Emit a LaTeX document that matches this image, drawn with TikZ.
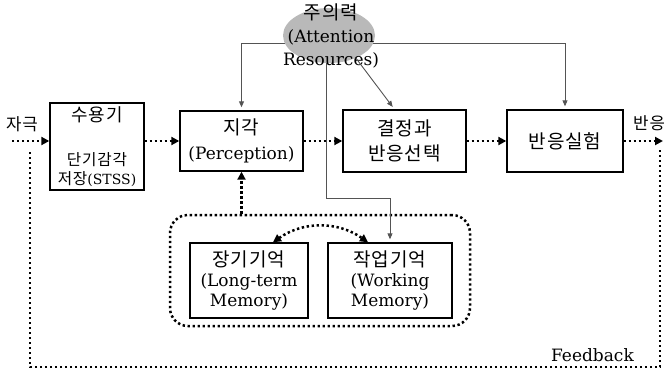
\documentclass[tikz,border=0pt]{standalone}
\usepackage{fontspec}
\setmainfont{DejaVu Serif}
\newfontfamily\kr[LetterSpace=5,Scale=1.12]{Noto Sans CJK KR}
\usetikzlibrary{arrows.meta,positioning,shapes.geometric}

\tikzset{
  blk/.style={draw, line width=1.4pt, align=center, inner sep=0pt,
    font=\fontsize{17}{25}\selectfont},
  membox/.style={blk, minimum height=75pt, font=\fontsize{17}{20}\selectfont},
  dotline/.style={line width=2.5pt, dash pattern=on 2.4pt off 2.6pt},
  dotarrow/.style={dotline, -{Triangle[length=8pt,width=8pt]}},
  attn/.style={gray!65!black, line width=0.9pt},
  attnarrow/.style={attn, -{Triangle[length=6pt,width=5pt]}, shorten >=3pt},
}

\begin{document}
\begin{tikzpicture}[x=1pt,y=-1pt]
\useasboundingbox (0,0) rectangle (664,373);

% stages
\node[blk, minimum width=94pt, minimum height=87pt] (recv) at (97,146.5) {};
\node[below=3pt of recv.north, inner sep=1pt, font=\kr\fontsize{16}{20}\selectfont] (recvname) {수용기};
\node[above=3pt of recv.south, inner sep=1pt, align=center, font=\fontsize{14}{19}\selectfont] (recvstss) {{\kr 단기감각}\\{\kr 저장}(STSS)};
\node[blk, minimum width=123pt, minimum height=60pt] (perc) at (241.5,141) {{\kr 지각}\\(Perception)};
\node[blk, minimum width=123pt, minimum height=62pt] (dec) at (404.5,141) {{\kr 결정과}\\{\kr 반응선택}};
\node[blk, minimum width=116pt, minimum height=62pt] (resp) at (565,141) {\kr 반응실험};

% memory
\node[draw, dotline, rounded corners=18pt, minimum width=300pt, minimum height=111pt] (mem) at (320,270.5) {};
\node[membox, minimum width=118pt] (ltm) at (249,280.5) {{\kr 장기기억}\\(Long-term\\Memory)};
\node[membox, minimum width=124pt] (wm) at (390,280.5) {{\kr 작업기억}\\(Working\\Memory)};

% attention
\coordinate (aline) at (0,43);
\coordinate (kink) at (0,198);
\draw[attn] (perc.north |- aline) -- (resp.north |- aline);
\node[ellipse, fill=gray!55, minimum width=92pt, minimum height=55pt, inner sep=0pt] (att) at (329,35.5) {};
\node[align=center, inner sep=0pt, font=\fontsize{17}{23}\selectfont] (atttext) at (331,36) {{\kr 주의력}\\(Attention\\Resources)};
\draw[attnarrow] (perc.north |- aline) -- (perc.north);
\draw[attnarrow] (resp.north |- aline) -- (resp.north);
\draw[attnarrow] (att.-40) -- ([xshift=-10pt]dec.north);
\draw[attnarrow] ([xshift=-3pt]att.south) |- (wm.north |- kink) -- (wm.north);

% flow
\coordinate (in) at (12,141);
\coordinate (out) at (663,141);
\node (stim) at (22,124) {\kr\fontsize{15}{18}\selectfont 자극};
\node[anchor=west, inner sep=0pt] (resplbl) at (633,123) {\kr\fontsize{15}{18}\selectfont 반응};
\draw[dotarrow] (in) -- (recv.west |- in);
\draw[dotarrow] (recv.east |- perc) -- (perc.west);
\draw[dotarrow] (perc.east) -- (dec.west |- perc.east);
\draw[dotarrow] (dec.east) -- (resp.west);
\draw[dotarrow] (resp.east) -- (out);
\draw[dotarrow] (perc.south |- mem.north) -- (perc.south);
\draw[dotline, {Triangle[length=8pt,width=8pt]}-{Triangle[length=8pt,width=8pt]}]
  ([xshift=24pt]ltm.north) to[bend left=35] ([xshift=-22pt]wm.north);

% feedback
\coordinate (fbR) at (660,150);
\coordinate (fbRB) at (660,367);
\coordinate (fbLB) at (30,367);
\coordinate (fbL) at (30,150);
\draw[dotline] (fbR) -- (fbRB) -- (fbLB) -- (fbL);
\node[anchor=south east, inner sep=2pt, font=\fontsize{17}{20}\selectfont] (fbtext) at (636,364) {Feedback};
\end{tikzpicture}
\end{document}
